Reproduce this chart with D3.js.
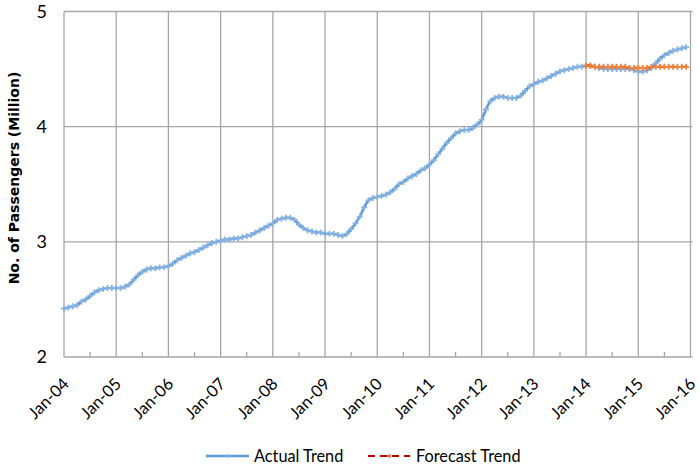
<!DOCTYPE html>
<html><head><meta charset="utf-8">
<script src="https://cdn.jsdelivr.net/npm/d3@7"></script>
<style>body{margin:0;background:#fff}svg{display:block}</style>
</head><body><svg id="c" width="700" height="470"></svg>
<script>
const startYear = 2004;
const tickLabels = ["Jan-04","Jan-05","Jan-06","Jan-07","Jan-08","Jan-09","Jan-10","Jan-11","Jan-12","Jan-13","Jan-14","Jan-15","Jan-16"];
const yTicks = [2,3,4,5];
const actual = [
 2.42,2.43,2.44,2.45,2.48,2.50,2.53,2.56,2.58,2.59,2.60,2.60,
 2.60,2.60,2.61,2.63,2.67,2.71,2.74,2.76,2.77,2.77,2.78,2.78,
 2.79,2.81,2.84,2.86,2.88,2.90,2.91,2.93,2.95,2.97,2.99,3.00,
 3.01,3.02,3.02,3.03,3.03,3.04,3.05,3.06,3.08,3.10,3.12,3.14,
 3.16,3.19,3.20,3.21,3.21,3.19,3.15,3.12,3.10,3.09,3.08,3.08,
 3.07,3.07,3.07,3.06,3.05,3.07,3.11,3.16,3.22,3.30,3.36,3.38,
 3.39,3.40,3.41,3.43,3.46,3.50,3.52,3.55,3.57,3.59,3.62,3.64,
 3.67,3.71,3.76,3.81,3.86,3.90,3.94,3.96,3.97,3.97,3.99,4.02,
 4.06,4.15,4.22,4.25,4.26,4.26,4.25,4.25,4.25,4.27,4.31,4.35,
 4.37,4.39,4.40,4.42,4.44,4.46,4.48,4.49,4.50,4.51,4.52,4.52,
 4.53,4.53,4.52,4.51,4.50,4.50,4.50,4.50,4.50,4.50,4.50,4.49,
 4.48,4.48,4.49,4.51,4.55,4.59,4.62,4.64,4.66,4.67,4.68,4.69
];
const forecastStart = 120; // Jan-14 month index
const forecast = [
 4.53,4.53,4.52,4.52,4.52,4.52,4.52,4.52,4.52,4.52,4.51,4.51,
 4.51,4.51,4.51,4.52,4.52,4.52,4.52,4.52,4.52,4.52,4.52,4.52
];
const seriesNames = ["Actual Trend","Forecast Trend"];

const svg = d3.select("#c");
const L = 64, R = 690.5, T = 11.5, B = 357;
const x = d3.scaleLinear().domain([0, 144]).range([L, R]);
const y = d3.scaleLinear().domain([2, 5]).range([B, T]);
const grid = "#a6a6a6";
const font = "Lato,'Liberation Sans',sans-serif";

// horizontal gridlines
svg.append("g").selectAll("line").data(yTicks).join("line")
  .attr("x1", L).attr("x2", R + 2).attr("y1", d => y(d)).attr("y2", d => y(d))
  .attr("stroke", grid).attr("stroke-width", 1.3);
// vertical gridlines (yearly)
svg.append("g").selectAll("line").data(d3.range(1, tickLabels.length)).join("line")
  .attr("x1", d => x(d * 12)).attr("x2", d => x(d * 12)).attr("y1", T).attr("y2", B)
  .attr("stroke", grid).attr("stroke-width", 1.3);
// y axis line
svg.append("line").attr("x1", L).attr("x2", L).attr("y1", T).attr("y2", B)
  .attr("stroke", grid).attr("stroke-width", 1.3);
// minor ticks (mid-year)
svg.append("g").selectAll("line").data(d3.range(0, 12)).join("line")
  .attr("x1", d => x(d * 12 + 6)).attr("x2", d => x(d * 12 + 6)).attr("y1", B - 5).attr("y2", B)
  .attr("stroke", grid).attr("stroke-width", 1.3);

// y labels
svg.append("g").selectAll("text").data(yTicks).join("text")
  .attr("x", 47).attr("y", d => y(d) + 6).attr("text-anchor", "end")
  .attr("font-family", font).attr("font-size", 18).attr("fill", "#000").text(d => d);
// x labels
svg.append("g").selectAll("text").data(tickLabels).join("text")
  .attr("transform", (d, i) => `translate(${x(i * 12) + 6},${B + 28}) rotate(-45)`)
  .attr("text-anchor", "end")
  .attr("font-family", font).attr("font-size", 16.5).attr("fill", "#000").text(d => d);
// y title
svg.append("text").attr("transform", "translate(19,178) rotate(-90)")
  .attr("text-anchor", "middle").attr("font-family", "'DejaVu Sans','Liberation Sans',sans-serif")
  .attr("font-weight", "bold").attr("font-size", 14).attr("fill", "#000")
  .text("No. of Passengers (Million)");

const plus = (g, data, off, color, sw) => {
  g.selectAll("path.m").data(data).join("path").attr("class", "m")
    .attr("d", (d, i) => { const cx = x(i + off), cy = y(d); return `M${cx-3},${cy}H${cx+3}M${cx},${cy-3}V${cy+3}`; })
    .attr("stroke", color).attr("stroke-width", sw).attr("fill", "none");
};

const line = off => d3.line().x((d, i) => x(i + off)).y(d => y(d)).curve(d3.curveMonotoneX);
// actual
svg.append("path").datum(actual).attr("d", line(0)).attr("fill", "none")
  .attr("stroke", "#5B9BD5").attr("stroke-width", 2.5);
plus(svg.append("g"), actual, 0, "#86B2E2", 1.7);
// forecast
svg.append("path").datum(forecast).attr("d", line(forecastStart)).attr("fill", "none")
  .attr("stroke", "#C00000").attr("stroke-width", 2.2).attr("stroke-dasharray", "7,5");
plus(svg.append("g"), forecast, forecastStart, "#F0823A", 1.8);

// legend
const lg = svg.append("g");
lg.append("line").attr("x1", 206).attr("x2", 249).attr("y1", 456).attr("y2", 456)
  .attr("stroke", "#5B9BD5").attr("stroke-width", 2.5);
lg.append("path").attr("d", "M225.5,456H229.5M227.5,454V458").attr("stroke", "#86B2E2").attr("stroke-width", 1.5);
lg.append("text").attr("x", 254).attr("y", 462).attr("font-family", font).attr("font-size", 16.3).text(seriesNames[0]);
lg.append("line").attr("x1", 368).attr("x2", 410).attr("y1", 456).attr("y2", 456)
  .attr("stroke", "#C00000").attr("stroke-width", 2.2).attr("stroke-dasharray", "7,5");
lg.append("path").attr("d", "M387,456H391M389,454V458").attr("stroke", "#F0823A").attr("stroke-width", 1.8);
lg.append("text").attr("x", 416).attr("y", 462).attr("font-family", font).attr("font-size", 16.3).text(seriesNames[1]);
</script></body></html>
